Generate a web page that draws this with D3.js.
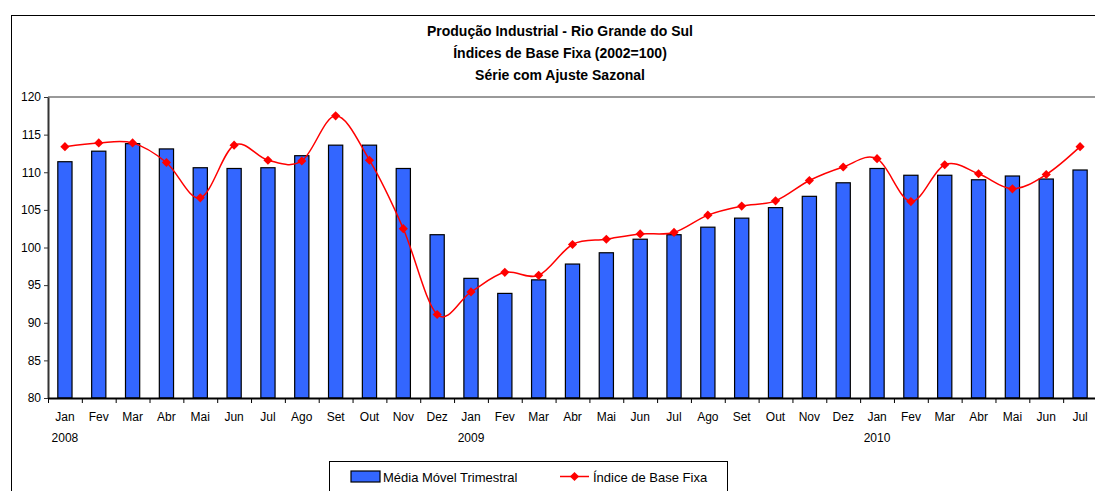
<!DOCTYPE html>
<html>
<head>
<meta charset="utf-8">
<script src="https://cdn.jsdelivr.net/npm/d3@7"></script>
<style>
body { margin: 0; background: #fff; }
svg text { font-family: "Liberation Sans", Arial, sans-serif; }
</style>
</head>
<body>
<div id="chart"></div>
<script>
// months shown on the x axis (Jan 2008 - Jul 2010)
var months = ["Jan","Fev","Mar","Abr","Mai","Jun","Jul","Ago","Set","Out","Nov","Dez",
              "Jan","Fev","Mar","Abr","Mai","Jun","Jul","Ago","Set","Out","Nov","Dez",
              "Jan","Fev","Mar","Abr","Mai","Jun","Jul"];
var years = [{i: 0, label: "2008"}, {i: 12, label: "2009"}, {i: 24, label: "2010"}];

// bars: Média Móvel Trimestral
var mediaMovel = [111.4, 112.8, 113.8, 113.1, 110.6, 110.5, 110.6, 112.2, 113.6, 113.6, 110.5, 101.7,
                  95.9, 93.9, 95.7, 97.8, 99.3, 101.1, 101.7, 102.7, 103.9, 105.3, 106.8, 108.6,
                  110.5, 109.6, 109.6, 109.0, 109.5, 109.1, 110.3];
// line: Índice de Base Fixa
var indiceBase = [113.4, 113.9, 113.9, 111.3, 106.6, 113.6, 111.6, 111.5, 117.5, 111.6, 102.5, 91.1,
                  94.1, 96.7, 96.3, 100.4, 101.1, 101.8, 102.0, 104.3, 105.5, 106.2, 108.9, 110.7,
                  111.8, 106.1, 111.0, 109.8, 107.8, 109.7, 113.4];
var yTicks = [80, 85, 90, 95, 100, 105, 110, 115, 120];
var titleLines = ["Produção Industrial - Rio Grande do Sul", "Índices de Base Fixa (2002=100)", "Série com Ajuste Sazonal"];

var width = 1095, height = 491;
var margin = {top: 97, right: -2, bottom: 93, left: 48};

var svg = d3.select("#chart").append("svg")
    .attr("width", width)
    .attr("height", height);

// outer frame (runs off the right and bottom of the picture)
svg.append("rect")
    .attr("x", 11.5).attr("y", 15.5)
    .attr("width", width + 20).attr("height", height + 20)
    .style("fill", "none").style("stroke", "#000").style("stroke-width", 1);

// title
svg.selectAll(".title")
    .data(titleLines)
    .join("text")
    .attr("class", "title")
    .attr("x", 560)
    .attr("y", (d, i) => 36 + i * 22)
    .attr("text-anchor", "middle")
    .style("font-size", "14px")
    .style("font-weight", "bold")
    .text(d => d);

var x = d3.scaleBand()
    .domain(d3.range(months.length))
    .range([margin.left, width - margin.right])
    .padding(0);

var y = d3.scaleLinear()
    .domain([80, 120])
    .range([height - margin.bottom, margin.top]);

var idx = d3.scaleLinear()
    .domain([0, months.length])
    .range([margin.left, width - margin.right]);

// plot area top border
svg.append("line")
    .attr("x1", margin.left).attr("x2", width)
    .attr("y1", y(120)).attr("y2", y(120))
    .style("stroke", "#999").style("stroke-width", 2);

// bars
var barW = x.bandwidth() * 0.42;
svg.selectAll(".bar")
    .data(mediaMovel)
    .join("rect")
    .attr("class", "bar")
    .attr("x", (d, i) => x(i) + (x.bandwidth() - barW) / 2)
    .attr("y", d => y(d))
    .attr("width", barW)
    .attr("height", d => y(80) - y(d))
    .style("fill", "#3366FF")
    .style("stroke", "#000")
    .style("stroke-width", 1.2);

// y axis
var yAxis = d3.axisLeft(y).tickValues(yTicks).tickSizeInner(4).tickSizeOuter(0).tickPadding(3);
var gy = svg.append("g").attr("transform", "translate(" + margin.left + ",0)").call(yAxis);
gy.select(".domain").style("stroke", "#333").style("stroke-width", 2);
gy.selectAll("line").style("stroke", "#333");
gy.selectAll("text").style("font-size", "12px").style("font-family", "Liberation Sans, Arial, sans-serif")
    .attr("fill", "#000");

// x axis: ticks between categories
var xTickAxis = d3.axisBottom(idx).tickValues(d3.range(months.length + 1)).tickFormat("")
    .tickSizeInner(5).tickSizeOuter(0);
var gx = svg.append("g").attr("transform", "translate(0," + y(80) + ")").call(xTickAxis);
gx.select(".domain").style("stroke", "#000").style("stroke-width", 2);
gx.selectAll("line").style("stroke", "#000");

// month labels
var xLabelAxis = d3.axisBottom(x).tickFormat(i => months[i]).tickSize(0).tickPadding(14);
var gl = svg.append("g").attr("transform", "translate(0," + y(80) + ")").call(xLabelAxis);
gl.select(".domain").remove();
gl.selectAll("text").style("font-size", "12px").style("font-family", "Liberation Sans, Arial, sans-serif")
    .attr("fill", "#000");

// year labels
svg.selectAll(".year")
    .data(years)
    .join("text")
    .attr("class", "year")
    .attr("x", d => x(d.i) + x.bandwidth() / 2)
    .attr("y", y(80) + 44)
    .attr("text-anchor", "middle")
    .style("font-size", "12px")
    .text(d => d.label);

// smoothed line
var line = d3.line()
    .x((d, i) => x(i) + x.bandwidth() / 2)
    .y(d => y(d))
    .curve(d3.curveCatmullRom.alpha(0));

svg.append("path")
    .datum(indiceBase)
    .attr("d", line)
    .style("fill", "none")
    .style("stroke", "#FF0000")
    .style("stroke-width", 1.5);

var diamond = d3.symbol(d3.symbolSquare, 42);
svg.selectAll(".pt")
    .data(indiceBase)
    .join("path")
    .attr("class", "pt")
    .attr("d", diamond)
    .attr("transform", (d, i) => "translate(" + (x(i) + x.bandwidth() / 2) + "," + y(d) + ") rotate(45)")
    .style("fill", "#FF0000");

// legend
var lg = svg.append("g");
lg.append("rect")
    .attr("x", 329.5).attr("y", 461.5)
    .attr("width", 398).attr("height", 40)
    .style("fill", "#fff").style("stroke", "#000").style("stroke-width", 1);
lg.append("rect")
    .attr("x", 351).attr("y", 471)
    .attr("width", 29).attr("height", 11)
    .style("fill", "#3366FF").style("stroke", "#000").style("stroke-width", 1.2);
lg.append("text")
    .attr("x", 383).attr("y", 481.5)
    .style("font-size", "13px")
    .text("Média Móvel Trimestral");
lg.append("line")
    .attr("x1", 560).attr("x2", 589).attr("y1", 476.5).attr("y2", 476.5)
    .style("stroke", "#FF0000").style("stroke-width", 1.5);
lg.append("path")
    .attr("d", diamond)
    .attr("transform", "translate(574.5,476.5) rotate(45)")
    .style("fill", "#FF0000");
lg.append("text")
    .attr("x", 593).attr("y", 481.5)
    .style("font-size", "13px")
    .text("Índice de Base Fixa");
</script>
</body>
</html>
